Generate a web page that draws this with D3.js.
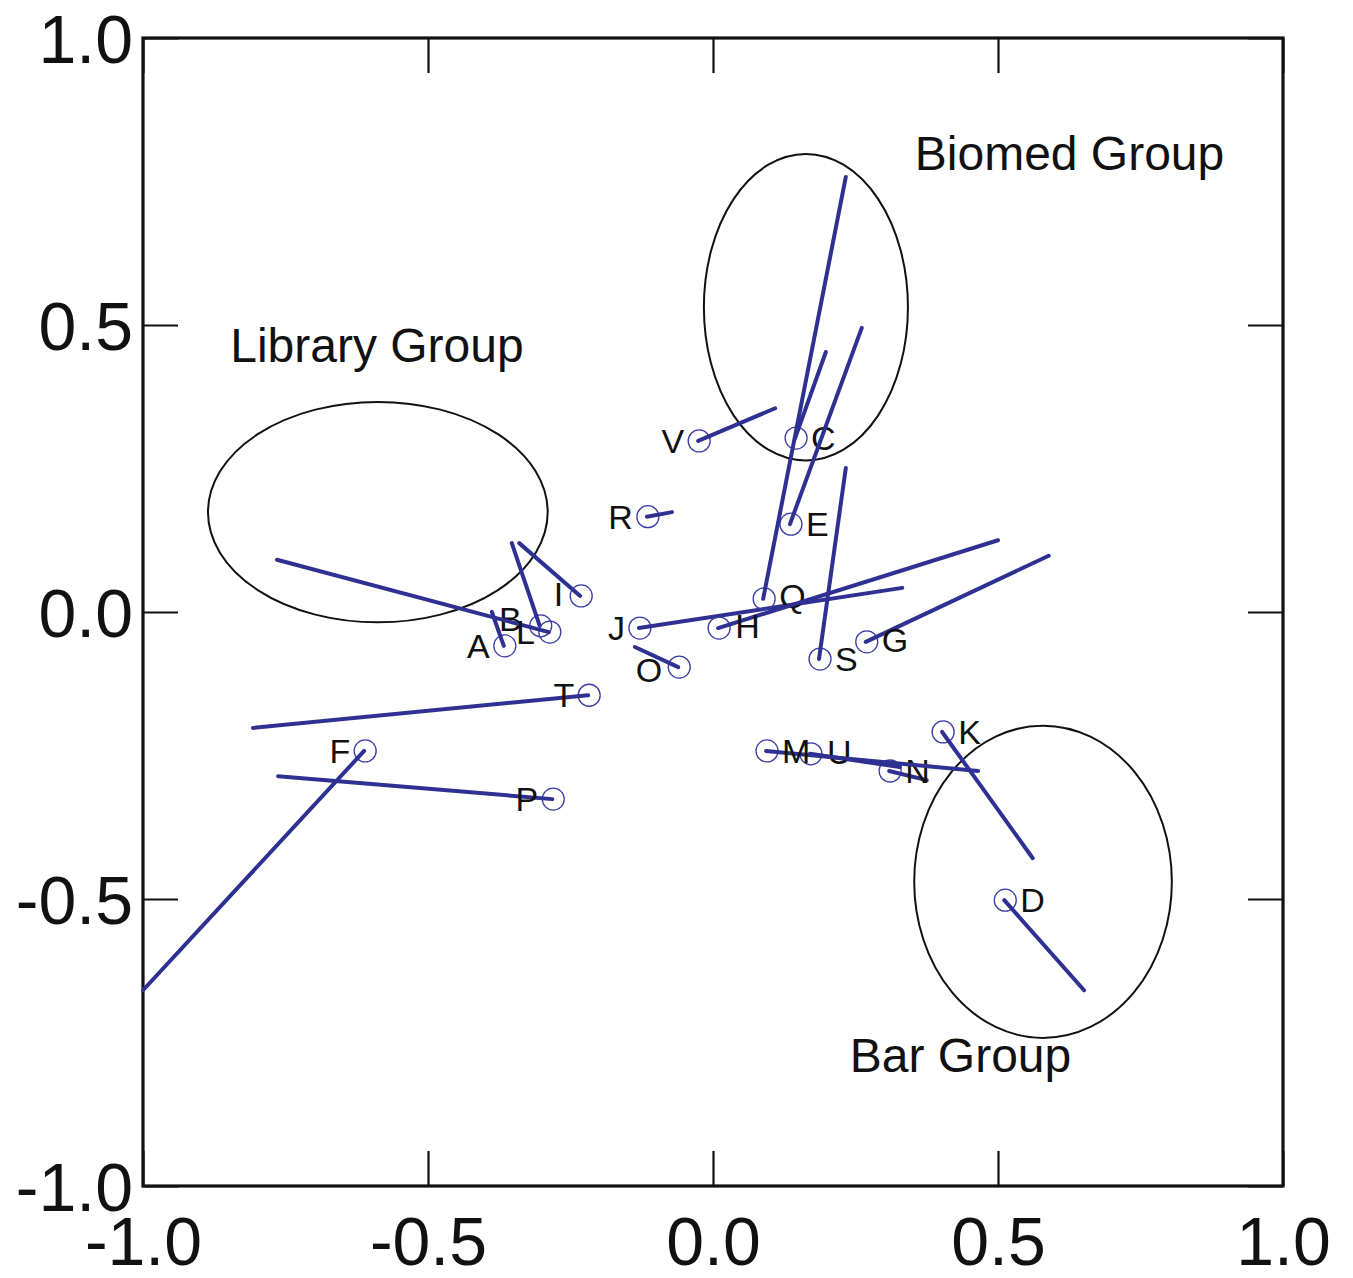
<!DOCTYPE html>
<html>
<head>
<meta charset="utf-8">
<script src="https://cdn.jsdelivr.net/npm/d3@7"></script>
<style>
  body { margin: 0; background: #fff; }
  svg { display: block; font-family: "Liberation Sans", Arial, sans-serif; }
</style>
</head>
<body>
<div id="chart"></div>
<script>
// point names and the two ends of each vector (start = point with circle)
var names = ['A', 'B', 'L', 'I', 'J', 'R', 'V', 'O', 'T', 'F', 'P',
             'C', 'E', 'Q', 'H', 'S', 'G', 'D', 'K', 'N', 'U', 'M']
var x0 = [-0.367, -0.304, -0.288, -0.233, -0.130, -0.116, -0.026, -0.061, -0.219, -0.612, -0.282,
           0.144, 0.135, 0.088, 0.009, 0.186, 0.268, 0.511, 0.402, 0.309, 0.170, 0.093]
var y0 = [-0.059, -0.024, -0.035, 0.028, -0.028, 0.166, 0.298, -0.096, -0.145, -0.242, -0.326,
           0.303, 0.153, 0.023, -0.028, -0.082, -0.052, -0.502, -0.209, -0.277, -0.247, -0.242]
var x1 = [-0.388, -0.353, -0.765, -0.340, 0.332, -0.072, 0.109, -0.137, -0.807, -1.000, -0.763,
           0.198, 0.261, 0.233, 0.500, 0.233, 0.589, 0.651, 0.561, 0.375, 0.328, 0.465]
var y1 = [0.000, 0.120, 0.091, 0.120, 0.042, 0.174, 0.355, -0.061, -0.202, -0.659, -0.286,
          0.453, 0.495, 0.758, 0.125, 0.251, 0.098, -0.659, -0.429, -0.293, -0.270, -0.277]

// group ellipses
var groups = ['Library Group', 'Biomed Group', 'Bar Group']
var groupCx = [-0.588, 0.163, 0.579]
var groupCy = [0.174, 0.531, -0.470]
var groupRx = [0.298, 0.179, 0.226]
var groupRy = [0.192, 0.267, 0.272]

var ticks = [-1.0, -0.5, 0.0, 0.5, 1.0]

// layout bits (not data)
var labelLeft = ['A', 'B', 'L', 'I', 'J', 'R', 'V', 'O', 'T', 'F', 'P']
// small per-label pixel nudges [dx, dy] on top of the default placement
var labelNudge = { B: [-4, -7], Q: [0, -3], I: [-3, -2], H: [1, -2], G: [0, -2], U: [1, -2], O: [-2, 3] }
var groupLabelPos = [[-0.847, 0.436], [0.354, 0.770], [0.240, -0.801]]

var svgWidth = 1353,
    svgHeight = 1278
var margin = { top: 38, right: 70, bottom: 92, left: 143 }
var width = svgWidth - margin.left - margin.right,
    height = svgHeight - margin.top - margin.bottom

var lineColor = '#2e3192',
    tickLen = 35

var svg = d3.select('#chart').append('svg')
    .attr('width', svgWidth)
    .attr('height', svgHeight)
    .append('g')
    .attr('transform', 'translate(' + margin.left + ',' + margin.top + ')')

var xScale = d3.scaleLinear().domain([-1, 1]).range([0, width])
var yScale = d3.scaleLinear().domain([-1, 1]).range([height, 0])

// plain hyphen for negatives, like the original
var fmt = d => d.toFixed(1)

// axes, ticks pointing inwards on all four sides
function styleAxis(g) {
    g.select('.domain').remove()
    g.selectAll('.tick line').attr('stroke', '#111').attr('stroke-width', 2.2)
    g.selectAll('.tick text').attr('fill', '#111').style('font-size', '68px')
        .style('font-family', '"Liberation Sans", Arial, sans-serif')
}

svg.append('g')
    .attr('transform', 'translate(0,' + height + ')')
    .call(d3.axisBottom(xScale).tickValues(ticks).tickFormat(fmt)
        .tickSizeInner(-tickLen).tickSizeOuter(0).tickPadding(31))
    .call(styleAxis)

svg.append('g')
    .call(d3.axisLeft(yScale).tickValues(ticks).tickFormat(fmt)
        .tickSizeInner(-tickLen).tickSizeOuter(0).tickPadding(10))
    .call(styleAxis)
    .selectAll('.tick text').attr('dy', '0.36em')

svg.append('g')
    .call(d3.axisTop(xScale).tickValues(ticks).tickFormat('')
        .tickSizeInner(-tickLen).tickSizeOuter(0))
    .call(styleAxis)

svg.append('g')
    .attr('transform', 'translate(' + width + ',0)')
    .call(d3.axisRight(yScale).tickValues(ticks).tickFormat('')
        .tickSizeInner(-tickLen).tickSizeOuter(0))
    .call(styleAxis)

// frame
svg.append('rect')
    .attr('width', width)
    .attr('height', height)
    .attr('fill', 'none')
    .attr('stroke', '#111')
    .attr('stroke-width', 3.2)

// group ellipses and their names
svg.selectAll('ellipse')
    .data(groups)
    .enter()
    .append('ellipse')
    .attr('cx', (d, i) => xScale(groupCx[i]))
    .attr('cy', (d, i) => yScale(groupCy[i]))
    .attr('rx', (d, i) => xScale(groupRx[i]) - xScale(0))
    .attr('ry', (d, i) => yScale(0) - yScale(groupRy[i]))
    .attr('fill', 'none')
    .attr('stroke', '#111')
    .attr('stroke-width', 2)

svg.selectAll('.group-label')
    .data(groups)
    .enter()
    .append('text')
    .attr('class', 'group-label')
    .attr('x', (d, i) => xScale(groupLabelPos[i][0]))
    .attr('y', (d, i) => yScale(groupLabelPos[i][1]))
    .attr('fill', '#111')
    .style('font-size', '48px')
    .text(d => d)

// vectors
var pts = svg.selectAll('.pt')
    .data(names)
    .enter()
    .append('g')
    .attr('class', 'pt')

pts.append('circle')
    .attr('cx', (d, i) => xScale(x0[i]) + 1)
    .attr('cy', (d, i) => yScale(y0[i]))
    .attr('r', 11)
    .attr('fill', 'none')
    .attr('stroke', '#3b3da6')
    .attr('stroke-width', 1.3)

pts.append('line')
    .attr('x1', (d, i) => xScale(x0[i]))
    .attr('y1', (d, i) => yScale(y0[i]))
    .attr('x2', (d, i) => xScale(x1[i]))
    .attr('y2', (d, i) => yScale(y1[i]))
    .attr('stroke', lineColor)
    .attr('stroke-width', 4)
    .attr('stroke-linecap', 'round')

pts.append('text')
    .attr('x', (d, i) => xScale(x0[i]) + (labelLeft.includes(d) ? -14 : 16) + (labelNudge[d] ? labelNudge[d][0] : 0))
    .attr('y', (d, i) => yScale(y0[i]) + 12 + (labelNudge[d] ? labelNudge[d][1] : 0))
    .attr('text-anchor', d => labelLeft.includes(d) ? 'end' : 'start')
    .attr('fill', '#111')
    .style('font-size', '34px')
    .text(d => d)
</script>
</body>
</html>
